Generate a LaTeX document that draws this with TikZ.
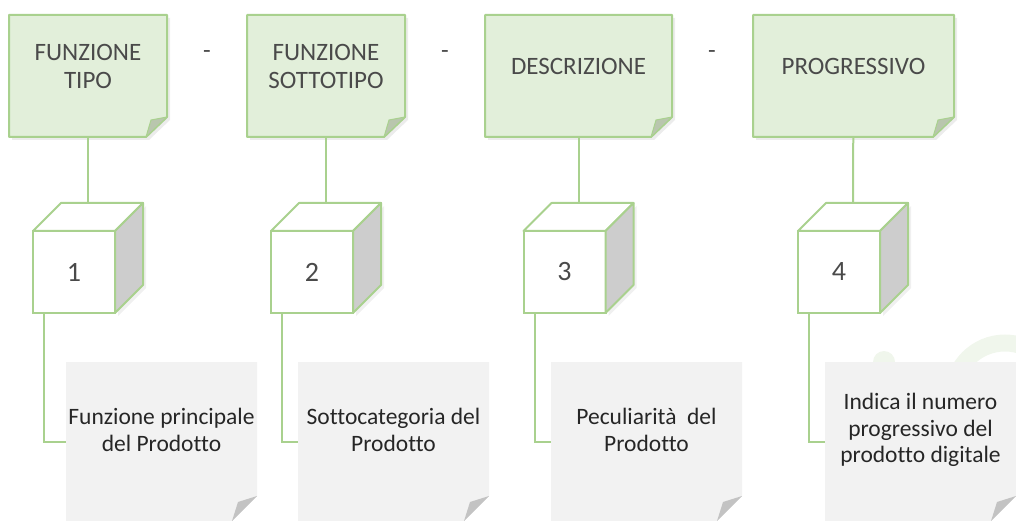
\documentclass[tikz,border=0pt]{standalone}
\usepackage{fontspec}
\setmainfont{Carlito}[Ligatures=NoCommon]
\usetikzlibrary{positioning, shadows}
\definecolor{leafgreen}{HTML}{A9D18E}
\definecolor{palegreen}{HTML}{E2EFDA}
\definecolor{flapgreen}{HTML}{B9C6AE}
\definecolor{paper}{HTML}{F2F2F2}
\definecolor{flapgray}{HTML}{C3C3C3}
\definecolor{sidegray}{HTML}{CDCDCD}
\definecolor{ink}{HTML}{4A4A4A}
\definecolor{darkink}{HTML}{262626}
\definecolor{watermark}{HTML}{F0F6EC}
\tikzset{x=1pt, y=-1pt, % One unit is one pixel of the layout, y grows downwards
every node/.style={inner sep=0pt, outer sep=0pt},
codebox/.style={minimum width=158pt, minimum height=122pt}, % Green note at the top
codetext/.style={font=\fontsize{25}{28}\selectfont, text=ink, align=center},
codeedge/.style={ % Outline of the green note, with its folded corner
draw=leafgreen, line width=2pt, line join=round, fill=palegreen,
drop shadow={shadow xshift=3pt, shadow yshift=-3pt, opacity=0.15}},
sepdash/.style={font=\fontsize{25}{28}\selectfont, text=ink},
cube/.style={ % Front face of a numbered cube
minimum size=82pt, draw=leafgreen, line width=2pt, fill=white,
font=\fontsize{28}{30}\selectfont, text=ink},
cubeface/.style={draw=leafgreen, line width=2pt, line join=round},
infonote/.style={minimum width=191pt, minimum height=159pt}, % Grey note at the bottom
infotext/.style={font=\fontsize{23.5}{26.5}\selectfont, text=darkink, align=center},
link/.style={draw=leafgreen, line width=2pt}}

\begin{document}
\begin{tikzpicture}
    \useasboundingbox (0,0) rectangle (1016,521);

    % faint logo behind the last note
    \draw[watermark, line width=17pt] (1005,395) circle[radius=52];
    \fill[watermark] (884,362) circle[radius=11];

    \node[codebox] (b1) at (88,76) {};
    \node[codebox] (b2) at (326,76) {};
    \node[codebox, minimum width=187pt] (b3) at (578.5,76) {};
    \node[codebox, minimum width=201pt] (b4) at (853.5,76) {};

    \foreach \b in {b1,b2,b3,b4}{
        \draw[codeedge] (\b.north west) -- (\b.north east) -- ([yshift=20pt]\b.south east)
            -- ([xshift=-21pt]\b.south east) -- (\b.south west) -- cycle;
        \draw[cubeface, line width=1pt, fill=flapgreen] ([yshift=20pt]\b.south east)
            -- ([xshift=-16pt, yshift=17pt]\b.south east) -- ([xshift=-21pt]\b.south east) -- cycle;
    }

    \node[codetext] (b1t) at ([yshift=10pt]b1.center) {FUNZIONE\\TIPO};
    \node[codetext] (b2t) at ([yshift=10pt]b2.center) {FUNZIONE\\SOTTOTIPO};
    \node[codetext] (b3t) at ([yshift=10pt]b3.center) {DESCRIZIONE};
    \node[codetext] (b4t) at ([yshift=10pt]b4.center) {PROGRESSIVO};

    \node[sepdash] (d1) at (207,55) {-};
    \node[sepdash] (d2) at (445,55) {-};
    \node[sepdash] (d3) at (712,55) {-};

    \node[infonote] (n1) at (161.5,441.5) {};
    \node[infonote] (n2) at (393.5,441.5) {};
    \node[infonote] (n3) at (646.5,441.5) {};
    \node[infonote] (n4) at (920.5,441.5) {};

    \foreach \n in {n1,n2,n3,n4}{
        \fill[paper] (\n.north west) -- (\n.north east) -- ([yshift=25pt]\n.south east)
            -- ([xshift=-25pt]\n.south east) -- (\n.south west) -- cycle;
        \fill[flapgray] ([yshift=25pt]\n.south east) -- ([xshift=-19pt, yshift=19pt]\n.south east)
            -- ([xshift=-25pt]\n.south east) -- cycle;
    }

    \node[infotext] (n1t) at ([yshift=11.5pt]n1.center) {Funzione principale\\del Prodotto};
    \node[infotext] (n2t) at ([yshift=11.5pt]n2.center) {Sottocategoria del\\Prodotto};
    \node[infotext] (n3t) at ([yshift=11.5pt]n3.center) {Peculiarità\ \ del\\Prodotto};
    \node[infotext] (n4t) at ([yshift=11.5pt]n4.center) {Indica il numero\\progressivo del\\prodotto digitale};

    \node[cube] (c1) at (74,272) {1};
    \node[cube] (c2) at (312,272) {2};
    \node[cube] (c3) at (564.5,272) {3};
    \node[cube] (c4) at (839,272) {4};

    \foreach \c in {c1,c2,c3,c4}{
        \draw[cubeface, fill=white] (\c.north west) -- ++(28,-28) -- ++(82,0) -- (\c.north east) -- cycle;
        \draw[cubeface, fill=sidegray, drop shadow={shadow xshift=3pt, shadow yshift=-3pt, opacity=0.12}]
            (\c.north east) -- ++(28,-28) -- ++(0,82) -- (\c.south east) -- cycle;
        \path (\c.north) ++(14,-28) coordinate (\c-top);
        \path (\c.south west) ++(11,0) coordinate (\c-foot);
    }

    \draw[link] (b1) -- (c1-top);
    \draw[link] (b2) -- (c2-top);
    \draw[link] (b3) -- (c3-top);
    \draw[link] (b4) -- (c4-top);

    \draw[link] (c1-foot) |- (n1);
    \draw[link] (c2-foot) |- (n2);
    \draw[link] (c3-foot) |- (n3);
    \draw[link] (c4-foot) |- (n4);

\end{tikzpicture}
\end{document}
